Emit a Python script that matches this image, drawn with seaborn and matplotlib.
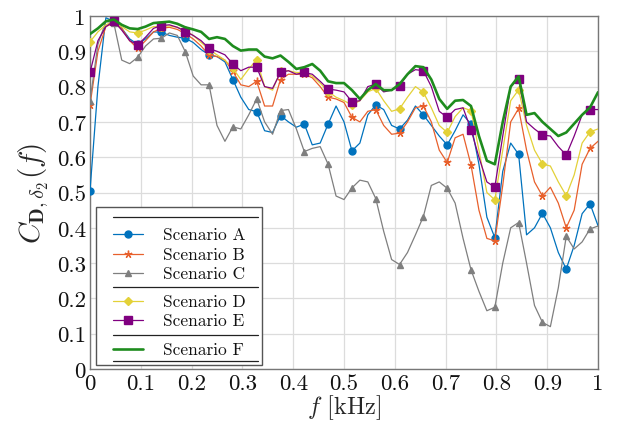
import numpy as np
import pandas as pd
import seaborn as sns
import matplotlib.pyplot as plt
from matplotlib.lines import Line2D

# frequency grid of the curves (kHz), one sample every 1/64 kHz
freq = np.arange(65) / 64

scen_a = [0.505, 0.80, 0.995, 0.985, 0.965, 0.935, 0.92, 0.935, 0.955, 0.954,
          0.945, 0.94, 0.937, 0.925, 0.905, 0.89, 0.885, 0.87, 0.82, 0.77,
          0.735, 0.729, 0.675, 0.67, 0.718, 0.70, 0.685, 0.694, 0.635, 0.64,
          0.694, 0.745, 0.70, 0.618, 0.64, 0.72, 0.748, 0.735, 0.69, 0.68,
          0.705, 0.745, 0.72, 0.69, 0.66, 0.635, 0.675, 0.72, 0.694, 0.58,
          0.43, 0.372, 0.56, 0.64, 0.608, 0.38, 0.40, 0.441, 0.40, 0.33,
          0.283, 0.35, 0.44, 0.468, 0.406]
scen_b = [0.748, 0.90, 0.97, 0.98, 0.965, 0.93, 0.908, 0.93, 0.955, 0.965,
          0.968, 0.962, 0.95, 0.935, 0.915, 0.889, 0.885, 0.875, 0.843, 0.805,
          0.80, 0.815, 0.745, 0.745, 0.82, 0.835, 0.835, 0.835, 0.825, 0.80,
          0.77, 0.765, 0.755, 0.713, 0.70, 0.73, 0.735, 0.69, 0.665, 0.668,
          0.70, 0.74, 0.745, 0.70, 0.62, 0.585, 0.655, 0.665, 0.578, 0.45,
          0.37, 0.363, 0.52, 0.70, 0.738, 0.62, 0.53, 0.49, 0.515, 0.47,
          0.40, 0.45, 0.58, 0.625, 0.645]
scen_c = [0.76, 0.92, 0.985, 0.98, 0.875, 0.865, 0.883, 0.915, 0.935, 0.937,
          0.952, 0.945, 0.899, 0.83, 0.805, 0.805, 0.69, 0.645, 0.686, 0.68,
          0.72, 0.765, 0.70, 0.665, 0.732, 0.735, 0.68, 0.616, 0.625, 0.63,
          0.58, 0.49, 0.48, 0.513, 0.535, 0.53, 0.483, 0.39, 0.31, 0.296,
          0.33, 0.38, 0.432, 0.52, 0.53, 0.512, 0.47, 0.37, 0.281, 0.22,
          0.165, 0.175, 0.30, 0.40, 0.415, 0.30, 0.18, 0.132, 0.12, 0.23,
          0.376, 0.34, 0.36, 0.397, 0.405]
scen_d = [0.927, 0.955, 0.975, 0.985, 0.97, 0.955, 0.952, 0.96, 0.97, 0.97,
          0.972, 0.968, 0.96, 0.945, 0.925, 0.905, 0.89, 0.875, 0.852, 0.82,
          0.85, 0.876, 0.80, 0.79, 0.845, 0.845, 0.84, 0.84, 0.83, 0.81,
          0.786, 0.77, 0.76, 0.748, 0.76, 0.785, 0.795, 0.76, 0.73, 0.737,
          0.77, 0.80, 0.784, 0.74, 0.69, 0.67, 0.715, 0.74, 0.732, 0.62,
          0.50, 0.479, 0.62, 0.76, 0.791, 0.69, 0.62, 0.581, 0.575, 0.53,
          0.491, 0.55, 0.64, 0.672, 0.68]
scen_e = [0.84, 0.93, 0.97, 0.985, 0.96, 0.93, 0.918, 0.94, 0.965, 0.973,
          0.975, 0.968, 0.956, 0.945, 0.93, 0.908, 0.90, 0.89, 0.864, 0.845,
          0.855, 0.855, 0.80, 0.795, 0.84, 0.845, 0.835, 0.84, 0.835, 0.815,
          0.793, 0.79, 0.785, 0.757, 0.76, 0.80, 0.807, 0.785, 0.79, 0.803,
          0.835, 0.848, 0.845, 0.80, 0.73, 0.713, 0.735, 0.74, 0.678, 0.60,
          0.53, 0.515, 0.66, 0.80, 0.821, 0.70, 0.68, 0.663, 0.66, 0.63,
          0.606, 0.66, 0.72, 0.735, 0.735]
scen_f = [0.949, 0.965, 0.985, 0.99, 0.975, 0.965, 0.963, 0.97, 0.98, 0.982,
          0.984, 0.978, 0.968, 0.962, 0.955, 0.935, 0.94, 0.935, 0.915, 0.902,
          0.905, 0.905, 0.885, 0.88, 0.888, 0.87, 0.85, 0.855, 0.864, 0.845,
          0.815, 0.81, 0.81, 0.79, 0.765, 0.79, 0.807, 0.79, 0.79, 0.807,
          0.835, 0.858, 0.855, 0.82, 0.765, 0.737, 0.76, 0.762, 0.745, 0.66,
          0.59, 0.58, 0.70, 0.80, 0.829, 0.72, 0.725, 0.70, 0.68, 0.66,
          0.67, 0.695, 0.72, 0.741, 0.784]

labels = ["Scenario A", "Scenario B", "Scenario C", "Scenario D", "Scenario E", "Scenario F"]
series = [scen_a, scen_b, scen_c, scen_d, scen_e, scen_f]
colors = ["#0072BD", "#E8602C", "#7F7F7F", "#E3D138", "#800080", "#1E8C1E"]
markers = ["o", (5, 2, 0), "^", "D", "s", None]
msizes = [5, 5.5, 5, 3.8, 6, 0]
lwidths = [0.9, 0.9, 0.9, 0.9, 0.9, 1.9]

sns.set_theme(style="whitegrid")
plt.rcParams["font.family"] = "cmr10"
plt.rcParams["mathtext.fontset"] = "cm"
plt.rcParams["axes.formatter.use_mathtext"] = True

fig = plt.figure(figsize=(6.19, 4.35), dpi=100)
ax = fig.add_axes([90 / 619, 65 / 435, 508 / 619, 353 / 435])

for lab, vals, c, m, ms, lw in zip(labels, series, colors, markers, msizes, lwidths):
    sns.lineplot(x=freq, y=vals, ax=ax, color=c, marker=m, markersize=ms,
                 markevery=3, linewidth=lw, markeredgecolor=c,
                 markeredgewidth=1.0, zorder=3)

ax.set_xlim(0, 1)
ax.set_ylim(0, 1)
ticks = np.round(np.arange(0, 1.01, 0.1), 1)
ticklabels = ["0"] + [f"{t:.1f}" for t in ticks[1:-1]] + ["1"]
ax.set_xticks(ticks)
ax.set_xticklabels(ticklabels)
ax.set_yticks(ticks)
ax.set_yticklabels(ticklabels)
ax.tick_params(labelsize=16.5, length=0, pad=3, colors="#111111")
ax.grid(True, color="#dcdcdc", linewidth=0.9)
for sp in ax.spines.values():
    sp.set_color("#777777")
    sp.set_linewidth(1.0)
ax.set_facecolor("white")

ax.set_xlabel(r"$f$ [kHz]", fontsize=17.5, labelpad=0)
ax.set_ylabel(r"$C_{\mathbf{D},\delta_2}(f)$", fontsize=21, labelpad=4)

# legend drawn as a framed box with separator rules
def axp(px, py):
    return (px - 90) / 508, (370 - py) / 353

x0, y0 = axp(96, 366)
x1, y1 = axp(262, 208)
ax.add_patch(plt.Rectangle((x0, y0), x1 - x0, y1 - y0, transform=ax.transAxes,
                           facecolor="white", edgecolor="#555555", linewidth=1.0, zorder=5))
hx0, _ = axp(113, 0)
hx1, _ = axp(143, 0)
tx, _ = axp(163, 0)
rx, _ = axp(258, 0)
entry_y = [235, 255, 274, 302, 321, 350]
for lab, c, m, ms, lw, py in zip(labels, colors, markers, msizes, lwidths, entry_y):
    _, yy = axp(0, py)
    ax.add_line(Line2D([hx0, hx1], [yy, yy], transform=ax.transAxes, color=c,
                       linewidth=lw, zorder=6))
    if m:
        ax.add_line(Line2D([(hx0 + hx1) / 2], [yy], transform=ax.transAxes, color=c,
                           marker=m, markersize=ms, markeredgecolor=c,
                           markeredgewidth=1.0, zorder=6))
    ax.text(tx, yy, lab, transform=ax.transAxes, fontsize=12.5, va="center",
            ha="left", zorder=6, color="#111111")
for py in [218, 288, 336, 362]:
    _, yy = axp(0, py)
    ax.add_line(Line2D([hx0, rx], [yy, yy], transform=ax.transAxes, color="#222222",
                       linewidth=0.9, zorder=6))

fig.savefig("out.png", dpi=100)
